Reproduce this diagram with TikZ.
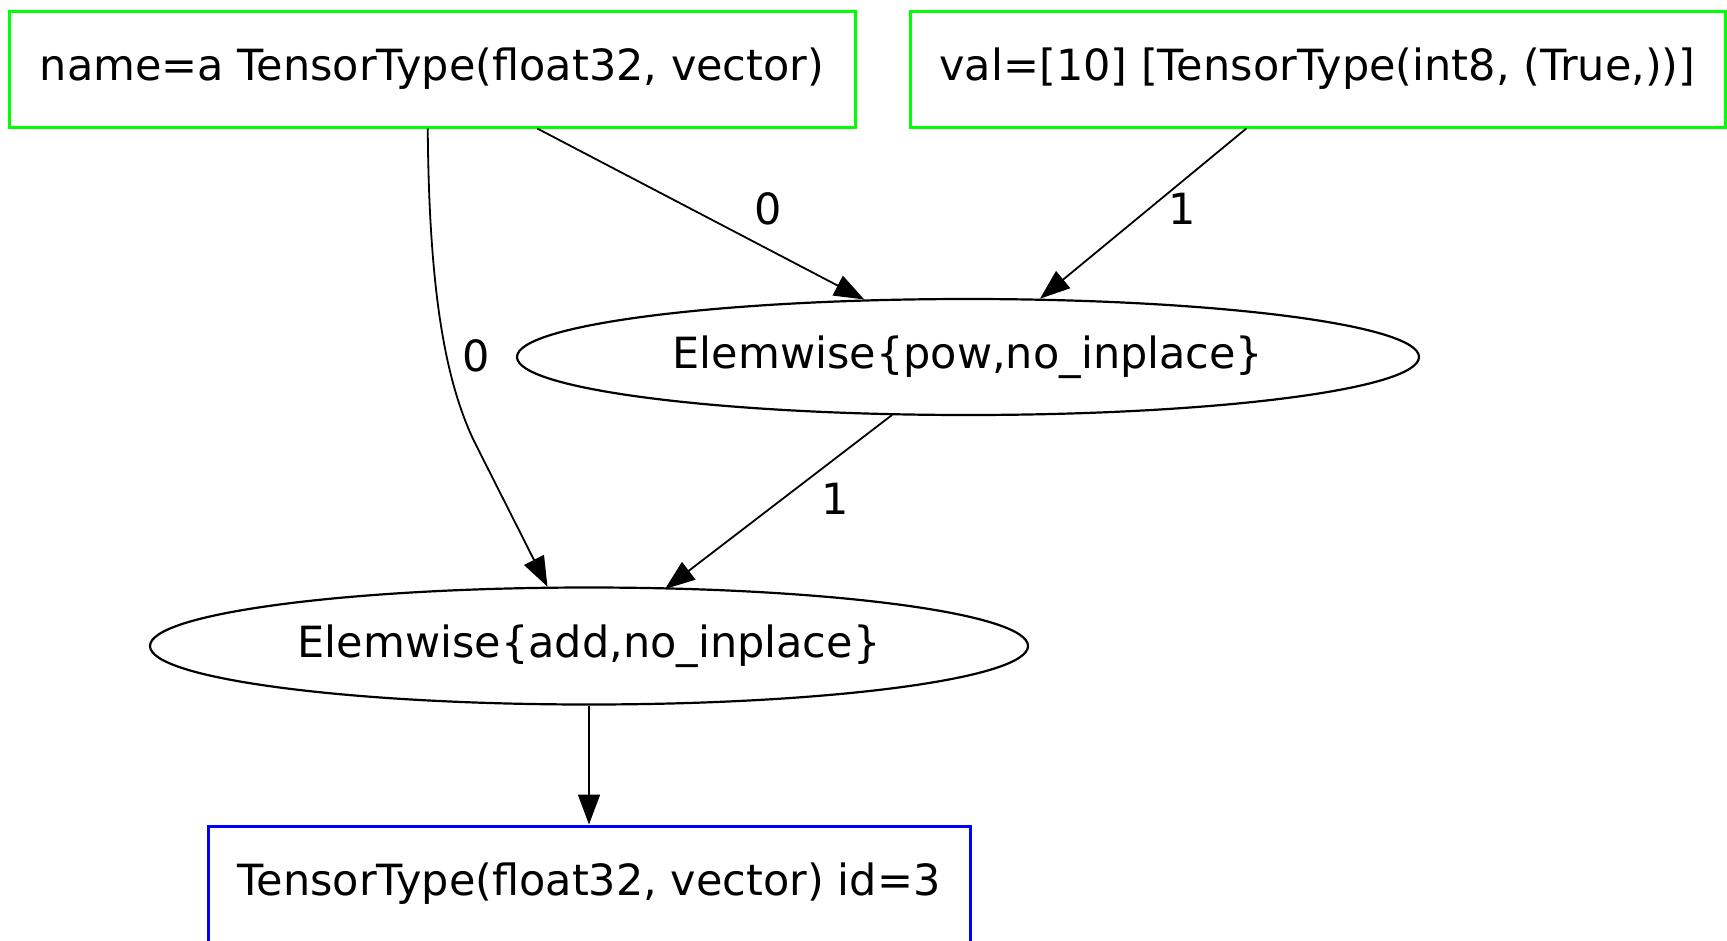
\documentclass[tikz,border=0pt]{standalone}
\usepackage{fontspec}
\setmainfont{DejaVu Sans}
\usetikzlibrary{shapes.geometric,arrows.meta,calc}
\definecolor{gvgreen}{RGB}{0,255,0}
\definecolor{gvblue}{RGB}{0,0,255}
\begin{document}
\begin{tikzpicture}[x=1pt,y=-1pt,
  every node/.style={font=\fontsize{43}{50}\selectfont},
  gbox/.style={draw=gvgreen, line width=3pt, rectangle, inner sep=0pt},
  bbox/.style={draw=gvblue, line width=3pt, rectangle, inner sep=0pt},
  opnode/.style={draw=black, ellipse, line width=2.2pt, inner sep=0pt},
  conn/.style={line width=1.8pt, -{Triangle[length=30pt,width=22pt]}},
  lbl/.style={inner sep=0pt}]
\path[use as bounding box] (0,0) rectangle (1727,940);
\clip (0,0) rectangle (1727,940);
\node[gbox, minimum width=846pt, minimum height=116pt] (A) at (432,69) {name=a TensorType(float32, vector)};
\node[gbox, minimum width=815pt, minimum height=116pt] (B) at (1317.5,69) {val=[10] [TensorType(int8, (True,))]};
\node[opnode, minimum width=902pt, minimum height=116pt] (pow) at (968,357) {Elemwise\{pow,no\_inplace\}};
\node[opnode, minimum width=878pt, minimum height=117pt] (add) at (589,646) {Elemwise\{add,no\_inplace\}};
\node[bbox, minimum width=762pt, minimum height=116pt] (out) at (589,884) {TensorType(float32, vector) id=3};
% edges
\draw[conn] ($(A.south west)!0.624!(A.south east)$) -- (pow.151.7);
\draw[conn] ($(B.south west)!0.413!(B.south east)$) -- (pow.39.2);
\coordinate (bend) at (474,441);
\draw[conn] ($(A.south west)!0.495!(A.south east)$) .. controls (429,290) and (445,380) .. (bend) -- (add.125.9);
\draw[conn] ($(pow.center)+(-76,58)$) -- ($(add.center)+(76,-57)$);
\draw[conn] (add.south) -- (out.north);
% labels
\node[lbl] (l0a) at (768,209) {0};
\node[lbl] (l1b) at (1182,209) {1};
\node[lbl] (l0c) at (476,356) {0};
\node[lbl] (l1d) at (835,499) {1};
\end{tikzpicture}
\end{document}
